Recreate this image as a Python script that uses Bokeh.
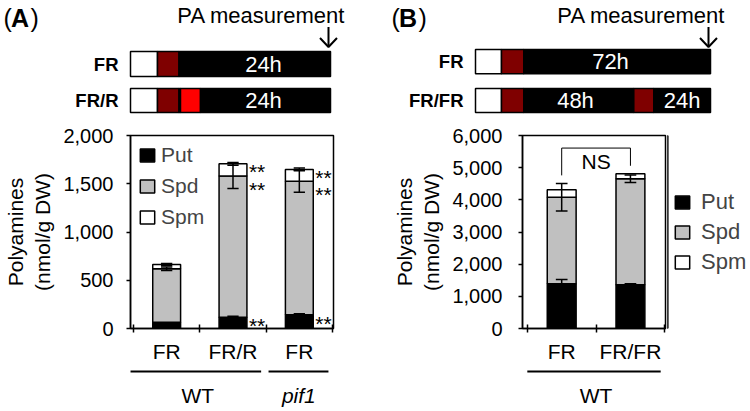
from bokeh.plotting import figure
from bokeh.models import (Range1d, FixedTicker, NumeralTickFormatter, Legend,
                          LegendItem, ColumnDataSource)
from bokeh.layouts import row, column
from bokeh.embed import file_html
from bokeh.resources import INLINE
from bokeh.core.properties import value

FONT = "Liberation Sans"

# ---------------- data: panel A ----------------
a_genotype = ["WT", "WT", "pif1"]
a_treatment = ["FR", "FR/R", "FR"]
a_put = [65, 117, 142]
a_spd = [555, 1463, 1384]
a_spm = [43, 127, 122]
a_put_err = [0, 10, 10]
a_spd_err = [18, 130, 114]
a_tot_err = [10, 14, 14]
a_sig = [[False, False, False], [True, True, True], [True, True, True]]  # Put, Spd, Spm
a_yticks = [0, 500, 1000, 1500, 2000]

# ---------------- data: panel B ----------------
b_genotype = ["WT", "WT"]
b_treatment = ["FR", "FR/FR"]
b_put = [1390, 1360]
b_spd = [2690, 3294]
b_spm = [232, 155]
b_put_err = [130, 30]
b_spd_err = [430, 115]
b_tot_err = [0, 0]
b_sig = [[False, False, False], [False, False, False]]
b_test = "NS"
b_yticks = [0, 1000, 2000, 3000, 4000, 5000, 6000]

components = ["Put", "Spd", "Spm"]
comp_colors = ["#000000", "#c0c0c0", "#ffffff"]

# ---------------- light-treatment schematics ----------------
a_rows = ["FR", "FR/R"]
a_seg_colors = [["#ffffff", "#7f0000", "#000000"],
                ["#ffffff", "#7f0000", "#000000", "#ff0000", "#000000"]]
a_seg_lengths = [[27, 21.5, 151.5], [27, 21.5, 1.5, 20, 130]]
a_hours = [[("24h", 133)], [("24h", 133)]]

b_rows = ["FR", "FR/FR"]
b_seg_colors = [["#ffffff", "#7f0000", "#000000"],
                ["#ffffff", "#7f0000", "#000000", "#7f0000", "#000000"]]
b_seg_lengths = [[26, 22.3, 186.7], [26, 22.3, 110, 20, 56.7]]
b_hours = [[("72h", 135)], [("48h", 100), ("24h", 206.7)]]

PANEL_W = 375
DIAG_H = 120
CHART_H = 246
GROUP_H = 45


def base_fig(**kw):
    f = figure(output_backend="svg", toolbar_location=None, title=None, **kw)
    f.frame_align = False
    f.grid.visible = False
    return f


def style_legend(lg, margin, standoff, spacing, size):
    lg.border_line_color = None
    lg.background_fill_alpha = 0
    lg.padding = 0
    lg.margin = margin
    lg.glyph_width = 18
    lg.glyph_height = 16
    lg.label_standoff = standoff
    lg.label_text_font = FONT
    lg.label_text_font_size = size
    lg.label_height = 16
    lg.spacing = spacing


def diagram(x0, letter, letter_x, rows, row_y, colors, lengths, hours, row_start):
    d = base_fig(width=PANEL_W, height=DIAG_H, x_range=Range1d(x0, x0 + PANEL_W),
                 y_range=Range1d(DIAG_H, 0), min_border=0,
                 x_axis_location=None, y_axis_location=None, outline_line_color=None)
    L, R, T, B, C = [], [], [], [], []
    for (yt, yb), cols, lens in zip(row_y, colors, lengths):
        xpos = row_start
        for c, ln in zip(cols, lens):
            L.append(xpos); R.append(xpos + ln); T.append(yt); B.append(yb); C.append(c)
            xpos += ln
    d.quad(left=L, right=R, top=T, bottom=B, fill_color=C, line_color="black", line_width=1.5)
    d.text(x=[row_start - 12] * len(rows), y=[(a + b) / 2 for a, b in row_y], text=rows,
           text_font=value(FONT), text_font_style="bold", text_font_size="18.5px",
           text_align="right", text_baseline="middle", text_color="black")
    hx, hy, ht = [], [], []
    for (yt, yb), hl in zip(row_y, hours):
        for t, off in hl:
            hx.append(row_start + off); hy.append((yt + yb) / 2); ht.append(t)
    d.text(x=hx, y=hy, text=ht, text_font=value(FONT), text_font_size="22px",
           text_align="center", text_baseline="middle", text_color="white")
    row_end = row_start + sum(lengths[0])
    d.text(x=[row_end - 69], y=[14.5], text=["PA measurement"], text_font=value(FONT),
           text_font_size="22px", text_align="center", text_baseline="middle", text_color="black")
    ax = row_end - 2
    d.segment(x0=[ax], y0=[26.5], x1=[ax], y1=[46.5], line_color="black", line_width=2)
    d.line(x=[ax - 8.5, ax, ax + 8.5], y=[37.5, 46.5, 37.5], line_color="black", line_width=2)
    d.text(x=[letter_x, letter_x + 27], y=[17.5, 17.5], text=["(", ")"], text_font=value(FONT),
           text_font_size="25px", text_align="left", text_baseline="middle", text_color="black")
    d.text(x=[letter_x + 7.5], y=[17.5], text=[letter], text_font=value(FONT),
           text_font_style="bold", text_font_size="25px", text_align="left",
           text_baseline="middle", text_color="black")
    return d


def chart(treat, put, spd, spm, put_err, spd_err, tot_err, sig, yticks, ymax,
          xr, width, bl, br, tick_standoff, legend_inside, test=None):
    n = len(treat)
    xs = [i + 0.5 for i in range(n)]
    p = base_fig(width=width, height=CHART_H, x_range=Range1d(*xr), y_range=Range1d(0, ymax),
                 min_border_left=bl, min_border_right=br, min_border_top=15, min_border_bottom=38)
    p.outline_line_color = "black"
    p.outline_line_width = 1.5
    src = ColumnDataSource(dict(x=xs, Put=put, Spd=spd, Spm=spm))
    bw = 0.42
    kw = dict(legend_label=components) if legend_inside else {}
    rs = p.vbar_stack(components, x="x", width=bw, source=src, fill_color=comp_colors,
                      line_color="black", line_width=1.5, **kw)
    if legend_inside:
        lg = p.legend[0]
        lg.location = "top_left"
        style_legend(lg, 8, 5, 7, "21px")

    put_top = put
    spd_top = [a + b for a, b in zip(put, spd)]
    tot_top = [a + b + c for a, b, c in zip(put, spd, spm)]
    cw = 0.17
    X0, Y0, X1, Y1 = [], [], [], []
    for i in range(n):
        for top, e in ((put_top[i], put_err[i]), (spd_top[i], spd_err[i]), (tot_top[i], tot_err[i])):
            if e <= 0:
                continue
            X0 += [xs[i], xs[i] - cw / 2, xs[i] - cw / 2]
            X1 += [xs[i], xs[i] + cw / 2, xs[i] + cw / 2]
            Y0 += [top - e, top - e, top + e]
            Y1 += [top + e, top - e, top + e]
    p.segment(x0=X0, y0=Y0, x1=X1, y1=Y1, line_color="black", line_width=1.5)

    # significance stars (Put, Spd, Spm), shifted in px below each segment top
    offs = [8.7, 13.2, 7.6]
    tops = [put_top, spd_top, tot_top]
    for k in range(3):
        px = [xs[i] + bw / 2 for i in range(n) if sig[i][k]]
        py = [tops[k][i] for i in range(n) if sig[i][k]]
        if px:
            p.text(x=px, y=py, text=["**"] * len(px), x_offset=2, y_offset=offs[k],
                   text_font=value(FONT), text_font_size="21px", text_align="left",
                   text_baseline="alphabetic", text_color="black")

    if test:
        hi = [max(tot_top[i], spd_top[i] + spd_err[i]) for i in range(n)]
        by = max(hi) + 800
        p.line(x=[xs[0], xs[0], xs[1], xs[1]], y=[hi[0] + 250, by, by, hi[1] + 250],
               line_color="black", line_width=1)
        p.text(x=[(xs[0] + xs[1]) / 2], y=[by], text=[test], y_offset=13,
               text_font=value(FONT), text_font_size="21px", text_align="center",
               text_baseline="middle", text_color="black")

    xa = p.xaxis[0]
    xa.ticker = FixedTicker(ticks=xs, minor_ticks=list(range(n + 1)))
    xa.major_label_overrides = {x: t for x, t in zip(xs, treat)}
    xa.major_tick_in = 0
    xa.major_tick_out = 0
    xa.minor_tick_in = 4
    xa.minor_tick_out = 4
    xa.minor_tick_line_color = "black"
    xa.minor_tick_line_width = 1.5
    xa.axis_line_color = "black"
    xa.axis_line_width = 1.5
    xa.major_label_text_font = FONT
    xa.major_label_text_font_size = "21px"
    xa.major_label_text_color = "black"
    xa.major_label_standoff = 7

    ya = p.yaxis[0]
    ya.ticker = FixedTicker(ticks=yticks)
    ya.formatter = NumeralTickFormatter(format="0,0")
    ya.major_tick_in = 0
    ya.major_tick_out = 4
    ya.minor_tick_in = 0
    ya.minor_tick_out = 0
    ya.major_tick_line_color = "black"
    ya.major_tick_line_width = 1.5
    ya.axis_line_color = "black"
    ya.axis_line_width = 1.5
    ya.major_label_text_font = FONT
    ya.major_label_text_font_size = "20px"
    ya.major_label_text_color = "black"
    ya.major_label_standoff = tick_standoff
    ya.axis_label = "Polyamines\n(nmol/g DW)"
    ya.axis_label_text_font = FONT
    ya.axis_label_text_font_size = "21px"
    ya.axis_label_text_font_style = "normal"
    ya.axis_label_text_color = "black"
    ya.axis_label_standoff = 6
    return p, rs


def legend_fig(width):
    f = base_fig(width=width, height=CHART_H, x_range=Range1d(0, 1), y_range=Range1d(0, 1),
                 min_border_left=0, min_border_right=0, min_border_top=15, min_border_bottom=38,
                 x_axis_location=None, y_axis_location=None, outline_line_color=None)
    rs = [f.vbar(x=[-5], top=[1], width=0.4, fill_color=c, line_color="black", line_width=1.5)
          for c in comp_colors]
    lg = Legend(items=[LegendItem(label=c, renderers=[r]) for c, r in zip(components, rs)],
                location="center_left")
    style_legend(lg, 6, 10, 4, "22px")
    f.add_layout(lg)
    return f


def groups_fig(p, genotype, bl, br):
    n = len(genotype)
    g = base_fig(width=PANEL_W, height=GROUP_H, x_range=p.x_range, y_range=Range1d(GROUP_H, 0),
                 min_border_left=bl, min_border_right=br, min_border_top=0, min_border_bottom=0,
                 x_axis_location=None, y_axis_location=None, outline_line_color=None)
    spans = []
    i = 0
    while i < n:
        j = i
        while j + 1 < n and genotype[j + 1] == genotype[i]:
            j += 1
        spans.append((genotype[i], i, j + 1))
        i = j + 1
    for name, s, e in spans:
        x0 = s + (0.05 if s > 0 else 0.0)
        x1 = e - 0.06
        g.segment(x0=[x0], y0=[5], x1=[x1], y1=[5], line_color="black", line_width=2)
        g.text(x=[(s + e) / 2], y=[29], text=[name], text_font=value(FONT),
               text_font_size="21px", text_align="center", text_baseline="middle",
               text_font_style="italic" if name != "WT" else "normal", text_color="black")
    return g


dA = diagram(0, "A", 3, a_rows, [(51, 76), (88, 112)], a_seg_colors, a_seg_lengths,
             a_hours, 130)
dB = diagram(375, "B", 391, b_rows, [(49, 73.3), (88, 112)], b_seg_colors, b_seg_lengths,
             b_hours, 475)

pA, _ = chart(a_treatment, a_put, a_spd, a_spm, a_put_err, a_spd_err, a_tot_err, a_sig,
              a_yticks, 2000, (-0.045, 3.015), PANEL_W, 127, 42, 13, True)
pB, _ = chart(b_treatment, b_put, b_spd, b_spm, b_put_err, b_spd_err, b_tot_err, b_sig,
              b_yticks, 6000, (-0.07, 2.01), 292, 147, 2, 16, False, test=b_test)
lgB = legend_fig(PANEL_W - 292)

gA = groups_fig(pA, a_genotype, 127, 42)
gB = groups_fig(pB, b_genotype, 147, 85)

layout = row(column(dA, pA, gA, spacing=0),
             column(dB, row(pB, lgB, spacing=0), gB, spacing=0), spacing=0)
open("out.html", "w").write(file_html(layout, INLINE))
